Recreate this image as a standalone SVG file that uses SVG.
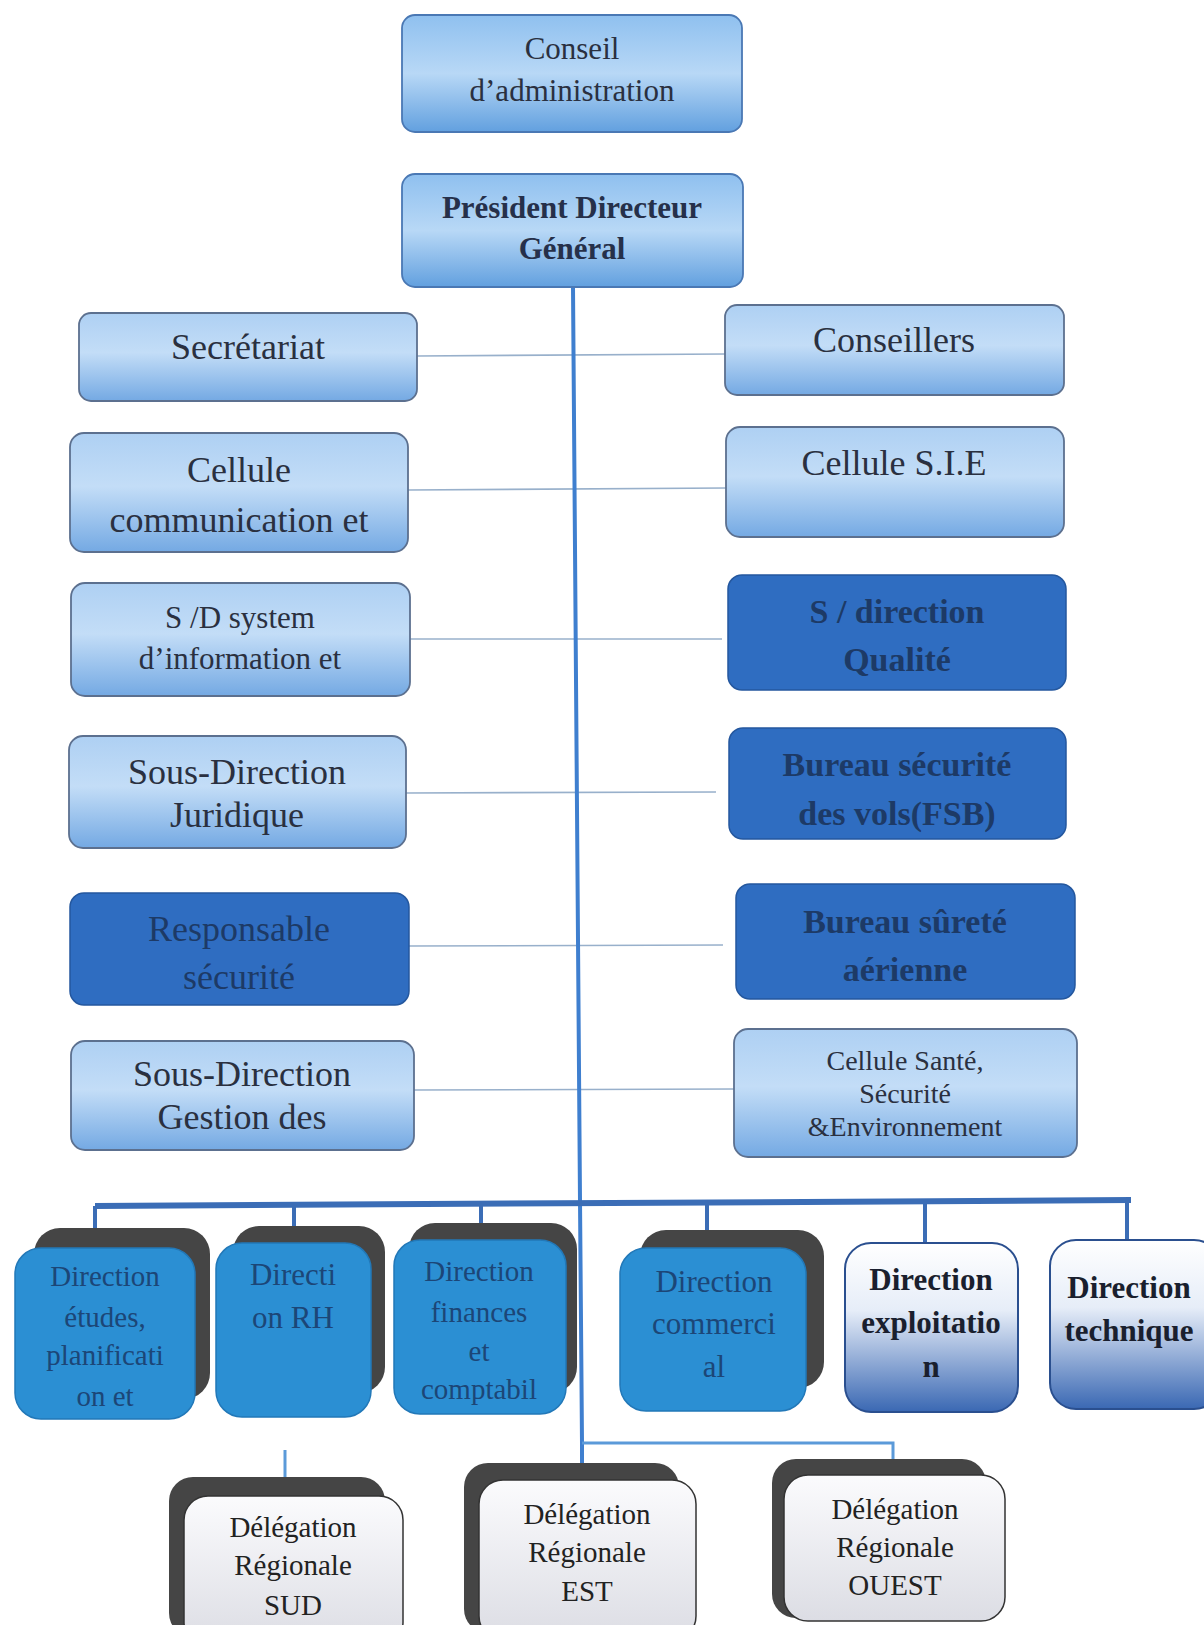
<svg xmlns="http://www.w3.org/2000/svg" width="1204" height="1625" viewBox="0 0 1204 1625">
<defs>
<linearGradient id="gLight" x1="0" y1="0" x2="0" y2="1">
<stop offset="0" stop-color="#aed0f3"/><stop offset="0.45" stop-color="#c3ddf7"/><stop offset="1" stop-color="#74a9e3"/>
</linearGradient>
<linearGradient id="gTop" x1="0" y1="0" x2="0" y2="1">
<stop offset="0" stop-color="#8fc0ef"/><stop offset="0.5" stop-color="#b8d8f6"/><stop offset="1" stop-color="#62a0df"/>
</linearGradient>
<linearGradient id="gWhiteBlue" x1="0" y1="0" x2="0" y2="1">
<stop offset="0" stop-color="#ffffff"/><stop offset="0.4" stop-color="#e6edf8"/><stop offset="1" stop-color="#3a68b3"/>
</linearGradient>
<linearGradient id="gDeleg" x1="0" y1="0" x2="0" y2="1">
<stop offset="0" stop-color="#fbfbfd"/><stop offset="1" stop-color="#dcdde4"/>
</linearGradient>
</defs>
<style>
.light{fill:url(#gLight);stroke:#5c708f;stroke-width:1.8}
.top{fill:url(#gTop);stroke:#4a78b4;stroke-width:1.8}
.dark{fill:#2f6dc1;stroke:#24579e;stroke-width:1.5}
.dir{fill:#2b8fd3;stroke:#2278b8;stroke-width:1.5}
.dirw{fill:url(#gWhiteBlue);stroke:#2a4f8f;stroke-width:2}
.shadow{fill:#454545}
.deleg{fill:url(#gDeleg);stroke:#333333;stroke-width:1.5}
text{font-family:"Liberation Serif","Times New Roman",serif;text-anchor:middle}
.t36{font-size:36px;fill:#2a3040}
.t31{font-size:31px;fill:#2a3040}
.tb31{font-size:31px;font-weight:bold;fill:#26304a}
.td{font-size:34px;font-weight:bold;fill:#1d3a66}
.tdr{font-size:36px;fill:#1d3a66}
.t28{font-size:28px;fill:#2a3040}
.tdir{font-size:29px;fill:#1c4677}
.tdir2{font-size:31px;fill:#1c4677}
.tdirb{font-size:31px;font-weight:bold;fill:#1a1f2e}
.tdel{font-size:29px;fill:#222222}
.row{stroke:#98b0cb;stroke-width:1.6;fill:none}
.trunk{stroke:#3f7fcf;stroke-width:4;fill:none}
.bar{stroke:#3b6db6;stroke-width:6;fill:none}
.drop{stroke:#3b6db6;stroke-width:4;fill:none}
.thin{stroke:#5b9ad9;stroke-width:3;fill:none}
</style>

<g id="connectors">
<line class="row" x1="417" y1="356" x2="725" y2="354"/>
<line class="row" x1="408" y1="490" x2="726" y2="488"/>
<line class="row" x1="410" y1="639" x2="722" y2="639"/>
<line class="row" x1="406" y1="793" x2="716" y2="792"/>
<line class="row" x1="409" y1="946" x2="723" y2="945"/>
<line class="row" x1="414" y1="1090" x2="734" y2="1089"/>
<polyline class="trunk" points="573,287 580,1200 582,1443 582,1480"/>
<line class="bar" x1="95" y1="1206" x2="1131" y2="1200"/>
<line class="drop" x1="95" y1="1206" x2="95" y2="1228"/>
<line class="drop" x1="294" y1="1205" x2="294" y2="1226"/>
<line class="drop" x1="481" y1="1204" x2="481" y2="1223"/>
<line class="drop" x1="707" y1="1203" x2="707" y2="1230"/>
<line class="drop" x1="925" y1="1202" x2="925" y2="1243"/>
<line class="drop" x1="1127" y1="1200" x2="1127" y2="1240"/>
<polyline class="thin" points="582,1443 893,1443 893,1475"/>
<line class="thin" x1="285" y1="1450" x2="285" y2="1492"/>
</g>

<g id="n-conseil">
<rect class="top" x="402" y="15" width="340" height="117" rx="13"/>
<text class="t31" x="572" y="59">Conseil</text>
<text class="t31" x="572" y="101">d’administration</text>
</g>
<g id="n-pdg">
<rect class="top" x="402" y="174" width="341" height="113" rx="13"/>
<text class="tb31" x="572" y="218">Président Directeur</text>
<text class="tb31" x="572" y="259">Général</text>
</g>

<g id="n-secretariat">
<rect class="light" x="79" y="313" width="338" height="88" rx="12"/>
<text class="t36" x="248" y="359">Secrétariat</text>
</g>
<g id="n-conseillers">
<rect class="light" x="725" y="305" width="339" height="90" rx="12"/>
<text class="t36" x="894" y="352">Conseillers</text>
</g>
<g id="n-cellule-comm">
<rect class="light" x="70" y="433" width="338" height="119" rx="14"/>
<text class="t36" x="239" y="482">Cellule</text>
<text class="t36" x="239" y="532">communication et</text>
</g>
<g id="n-cellule-sie">
<rect class="light" x="726" y="427" width="338" height="110" rx="14"/>
<text class="t36" x="894" y="475">Cellule S.I.E</text>
</g>
<g id="n-sd-system">
<rect class="light" x="71" y="583" width="339" height="113" rx="14"/>
<text class="t31" x="240" y="628">S /D system</text>
<text class="t31" x="240" y="669">d’information et</text>
</g>
<g id="n-sd-qualite">
<rect class="dark" x="728" y="575" width="338" height="115" rx="14"/>
<text class="td" x="897" y="623">S / direction</text>
<text class="td" x="897" y="671">Qualité</text>
</g>
<g id="n-sd-juridique">
<rect class="light" x="69" y="736" width="337" height="112" rx="14"/>
<text class="t36" x="237" y="784">Sous-Direction</text>
<text class="t36" x="237" y="827">Juridique</text>
</g>
<g id="n-bureau-securite">
<rect class="dark" x="729" y="728" width="337" height="111" rx="14"/>
<text class="td" x="897" y="776">Bureau sécurité</text>
<text class="td" x="897" y="825">des vols(FSB)</text>
</g>
<g id="n-responsable">
<rect class="dark" x="70" y="893" width="339" height="112" rx="14"/>
<text class="tdr" x="239" y="941">Responsable</text>
<text class="tdr" x="239" y="989">sécurité</text>
</g>
<g id="n-bureau-surete">
<rect class="dark" x="736" y="884" width="339" height="115" rx="14"/>
<text class="td" x="905" y="933">Bureau sûreté</text>
<text class="td" x="905" y="981">aérienne</text>
</g>
<g id="n-sd-gestion">
<rect class="light" x="71" y="1041" width="343" height="109" rx="14"/>
<text class="t36" x="242" y="1086">Sous-Direction</text>
<text class="t36" x="242" y="1129">Gestion des</text>
</g>
<g id="n-cellule-sante">
<rect class="light" x="734" y="1029" width="343" height="128" rx="14"/>
<text class="t28" x="905" y="1070">Cellule Santé,</text>
<text class="t28" x="905" y="1103">Sécurité</text>
<text class="t28" x="905" y="1136">&amp;Environnement</text>
</g>

<g id="n-dir-etudes">
<rect class="shadow" x="34" y="1228" width="176" height="171" rx="26"/>
<rect class="dir" x="15" y="1248" width="180" height="171" rx="26"/>
<text class="tdir" x="105" y="1286">Direction</text>
<text class="tdir" x="105" y="1327">études,</text>
<text class="tdir" x="105" y="1365">planificati</text>
<text class="tdir" x="105" y="1406">on et</text>
</g>
<g id="n-dir-rh">
<rect class="shadow" x="233" y="1226" width="152" height="167" rx="26"/>
<rect class="dir" x="216" y="1243" width="155" height="174" rx="26"/>
<text class="tdir2" x="293" y="1285">Directi</text>
<text class="tdir2" x="293" y="1328">on RH</text>
</g>
<g id="n-dir-finances">
<rect class="shadow" x="409" y="1223" width="168" height="170" rx="26"/>
<rect class="dir" x="394" y="1240" width="172" height="174" rx="26"/>
<text class="tdir" x="479" y="1281">Direction</text>
<text class="tdir" x="479" y="1322">finances</text>
<text class="tdir" x="479" y="1361">et</text>
<text class="tdir" x="479" y="1399">comptabil</text>
</g>
<g id="n-dir-commercial">
<rect class="shadow" x="640" y="1230" width="184" height="158" rx="26"/>
<rect class="dir" x="620" y="1248" width="186" height="163" rx="26"/>
<text class="tdir2" x="714" y="1292">Direction</text>
<text class="tdir2" x="714" y="1334">commerci</text>
<text class="tdir2" x="714" y="1377">al</text>
</g>
<g id="n-dir-exploitation">
<rect class="dirw" x="845" y="1243" width="173" height="169" rx="26"/>
<text class="tdirb" x="931" y="1290">Direction</text>
<text class="tdirb" x="931" y="1333">exploitatio</text>
<text class="tdirb" x="931" y="1377">n</text>
</g>
<g id="n-dir-technique">
<rect class="dirw" x="1050" y="1240" width="170" height="169" rx="26"/>
<text class="tdirb" x="1129" y="1298">Direction</text>
<text class="tdirb" x="1129" y="1341">technique</text>
</g>

<g id="n-deleg-sud">
<rect class="shadow" x="169" y="1477" width="216" height="160" rx="24"/>
<rect class="deleg" x="184" y="1496" width="219" height="150" rx="24"/>
<text class="tdel" x="293" y="1537">Délégation</text>
<text class="tdel" x="293" y="1575">Régionale</text>
<text class="tdel" x="293" y="1615">SUD</text>
</g>
<g id="n-deleg-est">
<rect class="shadow" x="464" y="1463" width="215" height="170" rx="24"/>
<rect class="deleg" x="479" y="1480" width="217" height="160" rx="24"/>
<text class="tdel" x="587" y="1524">Délégation</text>
<text class="tdel" x="587" y="1562">Régionale</text>
<text class="tdel" x="587" y="1601">EST</text>
</g>
<g id="n-deleg-ouest">
<rect class="shadow" x="772" y="1459" width="214" height="159" rx="24"/>
<rect class="deleg" x="784" y="1475" width="221" height="146" rx="24"/>
<text class="tdel" x="895" y="1519">Délégation</text>
<text class="tdel" x="895" y="1557">Régionale</text>
<text class="tdel" x="895" y="1595">OUEST</text>
</g>
</svg>
